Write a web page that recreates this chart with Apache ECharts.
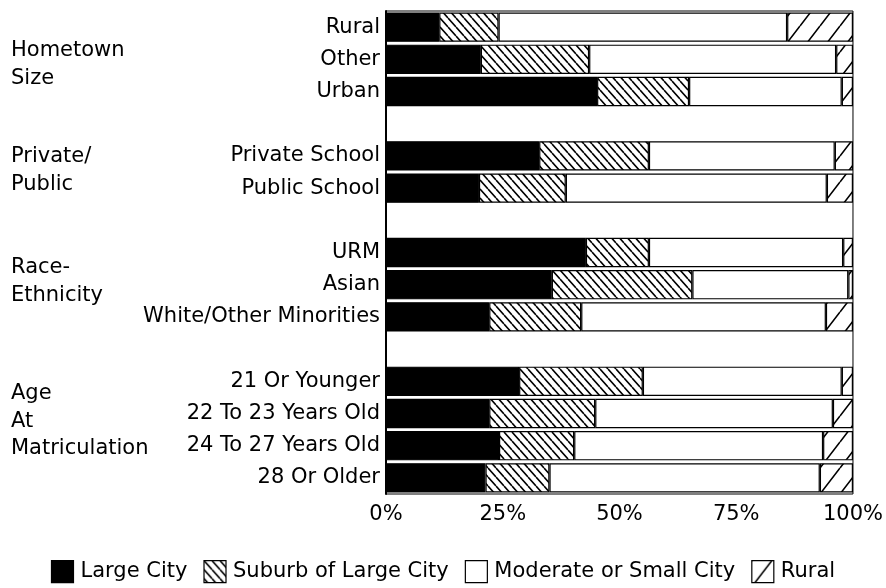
<!DOCTYPE html>
<html>
<head>
<meta charset="utf-8">
<script src="https://cdn.jsdelivr.net/npm/echarts@6/dist/echarts.min.js"></script>
<style>
html,body{margin:0;padding:0;background:#fff;}
#chart{width:886px;height:588px;}
</style>
</head>
<body>
<div id="chart"></div>
<script>
// ---- Data (percent shares) ----
var categories = ['Rural', 'Other', 'Urban', ' ',
  'Private School', 'Public School', '  ',
  'URM', 'Asian', 'White/Other Minorities', '   ',
  '21 Or Younger', '22 To 23 Years Old', '24 To 27 Years Old', '28 Or Older'];
var largeCity = [11.4, 20.3, 45.2, null, 32.8, 19.9, null, 42.8, 35.5, 22.1, null, 28.5, 22.1, 24.2, 21.3];
var suburb    = [12.7, 23.2, 19.7, null, 23.5, 18.6, null, 13.5, 30.1, 19.7, null, 26.5, 22.7, 16.1, 13.7];
var moderate  = [61.8, 52.9, 32.7, null, 39.8, 55.9, null, 41.6, 33.4, 52.4, null, 42.6, 50.9, 53.3, 57.9];
var rural     = [14.1,  3.6,  2.4, null,  3.9,  5.6, null,  2.1,  1.0,  5.8, null,  2.4,  4.3,  6.4,  7.1];
var seriesNames = ['Large City', 'Suburb of Large City', 'Moderate or Small City', 'Rural'];
var xTicks = [0, 25, 50, 75, 100];
var groupLabels = ['Hometown\nSize', 'Private/\nPublic', 'Race-\nEthnicity', 'Age\nAt\nMatriculation'];

// ---- Hatch patterns ----
function hatch(w, h, dir, lw) {
  var c = document.createElement('canvas');
  c.width = w; c.height = h;
  var ctx = c.getContext('2d');
  ctx.fillStyle = '#fff';
  ctx.fillRect(0, 0, w, h);
  ctx.strokeStyle = '#000';
  ctx.lineWidth = lw;
  ctx.beginPath();
  for (var k = -1; k <= 1; k++) {
    if (dir === 'back') { ctx.moveTo(k * w, 0); ctx.lineTo(k * w + w, h); }
    else { ctx.moveTo(k * w, h); ctx.lineTo(k * w + w, 0); }
  }
  ctx.stroke();
  return c;
}
var suburbPattern = { image: hatch(8, 9, 'back', 1.6), repeat: 'repeat' };
var ruralPattern = { image: hatch(20, 26, 'fwd', 1.6), repeat: 'repeat' };

var FONT = 'DejaVu Sans';
var FS = 21;
var fills = ['#000', suburbPattern, '#fff', ruralPattern];
var values = [largeCity, suburb, moderate, rural];

var chart = echarts.init(document.getElementById('chart'), null, { renderer: 'canvas' });

var series = seriesNames.map(function (name, i) {
  return {
    name: name,
    type: 'bar',
    stack: 'total',
    data: values[i],
    barCategoryGap: '9%',
    itemStyle: { color: fills[i], borderColor: '#000', borderWidth: 1.2 },
    emphasis: { disabled: true },
    animation: false
  };
});

var groupTops = [37, 143, 254, 380];
var graphics = groupLabels.map(function (t, i) {
  return {
    type: 'text',
    left: 11,
    top: groupTops[i],
    style: { text: t, font: FS + 'px "' + FONT + '"', fill: '#000', lineHeight: 27.5 }
  };
});

chart.setOption({
  animation: false,
  backgroundColor: '#fff',
  grid: { left: 386, right: 33, top: 11, bottom: 94, show: true, borderColor: '#000', borderWidth: 1, backgroundColor: 'transparent' },
  xAxis: {
    type: 'value', min: 0, max: 100, interval: 25,
    axisLine: { show: false }, axisTick: { show: false }, splitLine: { show: false },
    axisLabel: {
      margin: 10, color: '#000', fontFamily: FONT, fontSize: FS,
      formatter: function (v) { return xTicks.indexOf(v) >= 0 ? v + '%' : ''; }
    }
  },
  yAxis: {
    type: 'category', data: categories, inverse: true,
    axisLine: { show: true, lineStyle: { color: '#000', width: 2 } },
    axisTick: { show: false },
    axisLabel: { margin: 6, color: '#000', fontFamily: FONT, fontSize: FS }
  },
  legend: {
    data: seriesNames,
    left: 'center',
    top: 555,
    itemWidth: 22,
    itemHeight: 22,
    itemGap: 16,
    icon: 'rect',
    textStyle: { color: '#000', fontFamily: FONT, fontSize: FS, padding: [0, 0, 0, 2] },
    itemStyle: { borderColor: '#000', borderWidth: 1.2 },
    selectedMode: false
  },
  graphic: graphics,
  series: series
});
</script>
</body>
</html>
